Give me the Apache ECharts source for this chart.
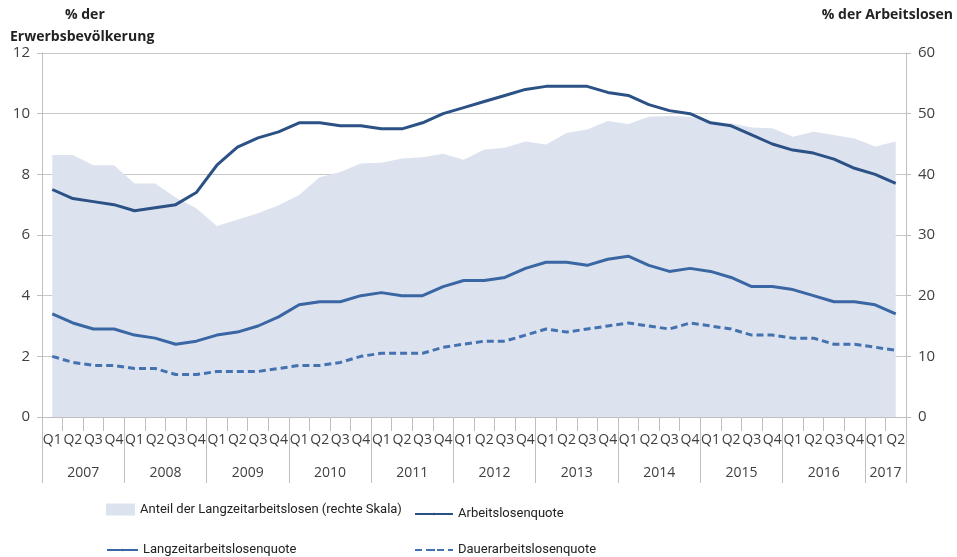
<!DOCTYPE html>
<html>
<head>
<meta charset="utf-8">
<script src="https://cdn.jsdelivr.net/npm/echarts@6/dist/echarts.min.js"></script>
<style>
  html, body { margin: 0; padding: 0; background: #fff; }
  #main { width: 957px; height: 557px; }
</style>
</head>
<body>
<div id="main"></div>
<script>
// Quartale Q1 2007 - Q2 2017
var years = ["2007", "2008", "2009", "2010", "2011", "2012", "2013", "2014", "2015", "2016", "2017"];
var quarterNames = ["Q1", "Q2", "Q3", "Q4"];

// Anteil der Langzeitarbeitslosen, % der Arbeitslosen (rechte Skala)
var anteilLangzeit = [43.2, 43.2, 41.5, 41.5, 38.5, 38.5, 36.2, 34.4, 31.5, 32.5, 33.6, 34.9,
  36.6, 39.5, 40.4, 41.8, 41.9, 42.6, 42.8, 43.4, 42.4, 44.1, 44.4, 45.4,
  44.9, 46.8, 47.4, 48.8, 48.3, 49.5, 49.6, 49.5, 48.6, 48.4, 47.7, 47.6,
  46.2, 47.0, 46.5, 45.9, 44.6, 45.4];
// % der Erwerbsbevölkerung
var arbeitslosenquote = [7.5, 7.2, 7.1, 7.0, 6.8, 6.9, 7.0, 7.4, 8.3, 8.9, 9.2, 9.4,
  9.7, 9.7, 9.6, 9.6, 9.5, 9.5, 9.7, 10.0, 10.2, 10.4, 10.6, 10.8,
  10.9, 10.9, 10.9, 10.7, 10.6, 10.3, 10.1, 10.0, 9.7, 9.6, 9.3, 9.0,
  8.8, 8.7, 8.5, 8.2, 8.0, 7.7];
var langzeitquote = [3.4, 3.1, 2.9, 2.9, 2.7, 2.6, 2.4, 2.5, 2.7, 2.8, 3.0, 3.3,
  3.7, 3.8, 3.8, 4.0, 4.1, 4.0, 4.0, 4.3, 4.5, 4.5, 4.6, 4.9,
  5.1, 5.1, 5.0, 5.2, 5.3, 5.0, 4.8, 4.9, 4.8, 4.6, 4.3, 4.3,
  4.2, 4.0, 3.8, 3.8, 3.7, 3.4];
var dauerquote = [2.0, 1.8, 1.7, 1.7, 1.6, 1.6, 1.4, 1.4, 1.5, 1.5, 1.5, 1.6,
  1.7, 1.7, 1.8, 2.0, 2.1, 2.1, 2.1, 2.3, 2.4, 2.5, 2.5, 2.7,
  2.9, 2.8, 2.9, 3.0, 3.1, 3.0, 2.9, 3.1, 3.0, 2.9, 2.7, 2.7,
  2.6, 2.6, 2.4, 2.4, 2.3, 2.2];

var quarters = [];
for (var i = 0; i < anteilLangzeit.length; i++) {
  quarters.push(quarterNames[i % 4]);
}
// Jahresachse: Grenzen 0..n, Jahreslabel in der Mitte des Jahres
var yearAxis = [];
for (var b = 0; b <= quarters.length; b++) yearAxis.push("");
years.forEach(function (y, k) {
  var start = k * 4;
  var end = Math.min(start + 4, quarters.length);
  yearAxis[(start + end) / 2] = y;
});

var font = "'Open Sans', sans-serif";
var legendFont = "Roboto, sans-serif";
var gray = "#bfbfbf";
var txt = "#404040";
var legendText = { fontSize: 13, color: "#222", fontFamily: legendFont };

var chart = echarts.init(document.getElementById("main"));
var option = {
  animation: false,
  textStyle: { fontFamily: font },
  grid: { left: 42, right: 51, top: 53, bottom: 140 },
  graphic: [
    { type: "text", left: 65, top: 8, style: { text: "% der", font: "bold 14px " + font, fill: "#222" } },
    { type: "text", left: 10, top: 30, style: { text: "Erwerbsbevölkerung", font: "bold 14px " + font, fill: "#222" } },
    { type: "text", right: 4, top: 8, style: { text: "% der Arbeitslosen", font: "bold 14px " + font, fill: "#222" } }
  ],
  legend: [
    { left: 106, top: 503, padding: 0, itemWidth: 29, itemHeight: 12, textStyle: legendText,
      data: [{ name: "Anteil der Langzeitarbeitslosen (rechte Skala)", icon: "rect" }] },
    { left: 414, top: 507.5, padding: 0, itemWidth: 38, itemHeight: 3, textStyle: legendText,
      data: ["Arbeitslosenquote"] },
    { left: 106, top: 543.5, padding: 0, itemWidth: 31, itemHeight: 3, textStyle: legendText,
      data: ["Langzeitarbeitslosenquote"] },
    { left: 414, top: 543.5, padding: 0, itemWidth: 38, itemHeight: 3, textStyle: legendText,
      data: ["Dauerarbeitslosenquote"] }
  ],
  xAxis: [
    {
      type: "category",
      data: quarters,
      boundaryGap: true,
      axisLine: { lineStyle: { color: gray } },
      axisTick: { show: true, length: 14, lineStyle: { color: gray } },
      axisLabel: { interval: 0, margin: 16, fontSize: 14, color: txt }
    },
    {
      type: "category",
      data: yearAxis,
      boundaryGap: false,
      position: "bottom",
      axisLine: { show: false },
      axisTick: {
        show: true, length: 66, lineStyle: { color: gray },
        interval: function (idx) { return idx % 4 === 0 || idx === quarters.length; }
      },
      axisLabel: {
        margin: 49, fontSize: 14, color: txt,
        interval: function (idx, val) { return val !== ""; }
      }
    }
  ],
  yAxis: [
    {
      type: "value", min: 0, max: 12, interval: 2,
      axisLine: { show: true, lineStyle: { color: gray } },
      axisTick: { show: true, length: 5, lineStyle: { color: gray } },
      axisLabel: { margin: 12, fontSize: 15, color: txt },
      splitLine: { lineStyle: { color: "#c8c8c8" } }
    },
    {
      type: "value", min: 0, max: 60, interval: 10,
      axisLine: { show: true, lineStyle: { color: gray } },
      axisTick: { show: true, length: 5, lineStyle: { color: gray } },
      axisLabel: { margin: 12, fontSize: 15, color: txt },
      splitLine: { show: false }
    }
  ],
  series: [
    {
      name: "Anteil der Langzeitarbeitslosen (rechte Skala)",
      type: "line",
      yAxisIndex: 1,
      data: anteilLangzeit,
      symbol: "none",
      itemStyle: { color: "#dce3ef" },
      lineStyle: { width: 0, color: "#dce3ef" },
      areaStyle: { color: "#dce3ef", opacity: 1 },
      z: 1
    },
    {
      name: "Arbeitslosenquote",
      type: "line",
      data: arbeitslosenquote,
      symbol: "none",
      itemStyle: { color: "#2b5185" },
      lineStyle: { width: 3, color: "#2b5185" },
      z: 3
    },
    {
      name: "Langzeitarbeitslosenquote",
      type: "line",
      data: langzeitquote,
      symbol: "none",
      itemStyle: { color: "#3a67a3" },
      lineStyle: { width: 3, color: "#3a67a3" },
      z: 3
    },
    {
      name: "Dauerarbeitslosenquote",
      type: "line",
      data: dauerquote,
      symbol: "none",
      itemStyle: { color: "#4472b0" },
      lineStyle: { width: 3, color: "#4472b0", type: [7, 4] },
      z: 3
    }
  ]
};
chart.setOption(option);
</script>
</body>
</html>
